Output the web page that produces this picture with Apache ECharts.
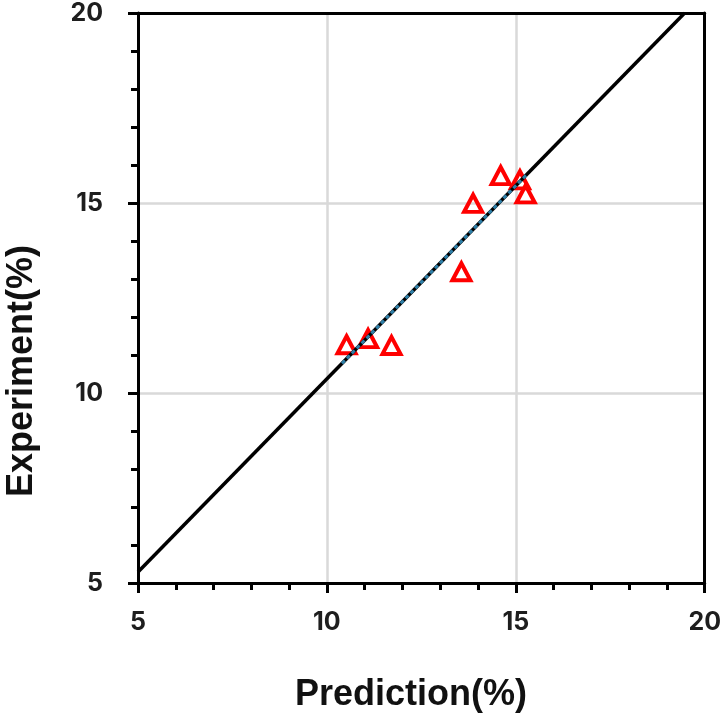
<!DOCTYPE html>
<html>
<head>
<meta charset="utf-8">
<script src="https://cdn.jsdelivr.net/npm/echarts@6/dist/echarts.min.js"></script>
<style>
html,body{margin:0;padding:0;background:#fff;}
#chart{width:724px;height:723px;}
</style>
</head>
<body>
<div id="chart"></div>
<script>
// Data
const predX = [10.52, 11.09, 11.71, 13.56, 13.87, 14.60, 15.11, 15.26];
const expY  = [11.27, 11.43, 11.25, 13.19, 14.99, 15.72, 15.61, 15.24];
const fitX = [5, 19.47];
const fitY = [5.29, 20];
const trendX = [10.4, 15.3];
const trendY = [10.78, 15.76];
const axisMin = 5, axisMax = 20, axisStep = 5;
const xName = 'Prediction(%)';
const yName = 'Experiment(%)';

const chart = echarts.init(document.getElementById('chart'));
const FONT = 'Liberation Sans, Arial, sans-serif';
const TICKFONT = 'Inter, Liberation Sans, Arial, sans-serif';

function mainAxis(isX) {
  return {
    type: 'value', min: axisMin, max: axisMax, interval: axisStep,
    position: isX ? 'bottom' : 'left',
    axisLine: {show: true, onZero: false, lineStyle: {color: '#000', width: 3}},
    axisTick: {show: true, inside: false, length: 10, lineStyle: {color: '#000', width: 3}},
    minorTick: {show: true, splitNumber: 5, length: 7, lineStyle: {color: '#000', width: 3}},
    splitLine: {show: true, showMinLine: false, showMaxLine: false, lineStyle: {color: '#d9d9d9', width: 2.5}},
    axisLabel: {fontSize: 25, fontWeight: 'bold', color: '#1e1e1e', fontFamily: TICKFONT, margin: isX ? 27 : 35},
    z: 2
  };
}
function borderAxis(isX) {
  return {
    type: 'value', min: axisMin, max: axisMax, interval: axisStep,
    position: isX ? 'top' : 'right',
    axisLine: {show: true, onZero: false, lineStyle: {color: '#000', width: 3}},
    axisTick: {show: false}, axisLabel: {show: false}, splitLine: {show: false},
    z: 3
  };
}

const option = {
  animation: false,
  backgroundColor: '#fff',
  grid: {left: 138, right: 19, top: 13, bottom: 140},
  xAxis: [mainAxis(true), borderAxis(true)],
  yAxis: [mainAxis(false), borderAxis(false)],
  graphic: [
    {type: 'text', x: 411, y: 695, style: {text: xName, fontSize: 36, fontWeight: 'bold', fontFamily: FONT, fill: '#111', textAlign: 'center', textVerticalAlign: 'middle'}},
    {type: 'text', x: 22, y: 371, rotation: Math.PI / 2, style: {text: yName, fontSize: 36, fontWeight: 'bold', fontFamily: FONT, fill: '#111', textAlign: 'center', textVerticalAlign: 'middle'}}
  ],
  series: [
    {
      type: 'scatter',
      data: predX.map((x, i) => [x, expY[i]]),
      symbol: 'triangle', symbolSize: [18, 17],
      itemStyle: {color: 'rgba(255,255,255,0)', borderColor: '#ff0000', borderWidth: 4, opacity: 1},
      z: 3
    },
    {
      type: 'line',
      data: fitX.map((x, i) => [x, fitY[i]]),
      showSymbol: false, symbol: 'none',
      lineStyle: {color: '#000', width: 3.5},
      z: 4
    },
    {
      type: 'line',
      data: trendX.map((x, i) => [x, trendY[i]]),
      showSymbol: false, symbol: 'none',
      lineStyle: {color: '#2e7fa8', width: 3, type: [4, 3], opacity: 1},
      z: 5
    }
  ]
};
chart.setOption(option);
</script>
</body>
</html>
